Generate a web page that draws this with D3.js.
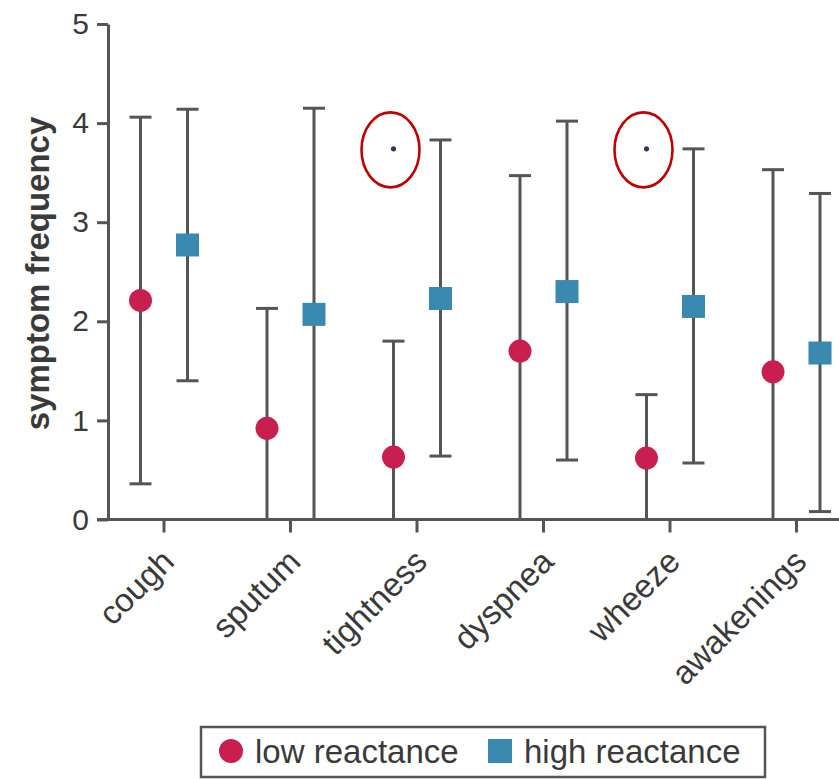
<!DOCTYPE html>
<html>
<head>
<meta charset="utf-8">
<script src="https://cdn.jsdelivr.net/npm/d3@7/dist/d3.min.js"></script>
<style>
  html, body { margin: 0; padding: 0; background: #fff; }
  svg { display: block; font-family: "Liberation Sans", Arial, Helvetica, sans-serif; }
</style>
</head>
<body>
<svg id="chart" width="839" height="779"></svg>
<script>
// Symptom frequency by airway reactance group: mean with range bars
const categories = ["cough", "sputum", "tightness", "dyspnea", "wheeze", "awakenings"];
const seriesNames = ["low reactance", "high reactance"];

const lowMean  = [2.21, 0.92, 0.63, 1.70, 0.62, 1.49];
const lowLower = [0.36, 0.00, 0.00, 0.00, 0.00, 0.00];
const lowUpper = [4.06, 2.13, 1.80, 3.47, 1.26, 3.53];

const highMean  = [2.77, 2.07, 2.23, 2.30, 2.15, 1.68];
const highLower = [1.40, 0.00, 0.64, 0.60, 0.57, 0.08];
const highUpper = [4.14, 4.15, 3.83, 4.02, 3.74, 3.29];

// single outlying observations in the low-reactance group, circled
const outlierCategories = ["tightness", "wheeze"];
const outlierValues = [3.74, 3.74];

const yTicks = [0, 1, 2, 3, 4, 5];
const yTitle = "symptom frequency";

const colors = { low: "#c91f4e", high: "#3a89b0" };
const axisColor = "#555";
const textColor = "#3a3a3a";

const svg = d3.select("#chart");

const y = d3.scaleLinear().domain([0, 5]).range([519.5, 24]);
const x = d3.scaleBand().domain(categories).range([100.75, 859.75]).padding(0);
const offset = 23.5;   // horizontal shift of each group within a category
const cx = c => x(c) + x.bandwidth() / 2;

// ---- y axis
const yAxisX = 108;
const yAxis = d3.axisLeft(y).tickValues(yTicks).tickFormat(d3.format("d"))
  .tickSize(11).tickSizeOuter(0).tickPadding(8);
const gy = svg.append("g").attr("transform", `translate(${yAxisX},0)`).call(yAxis);
gy.select(".domain").attr("stroke", axisColor).attr("stroke-width", 3);
gy.selectAll(".tick line").attr("stroke", axisColor).attr("stroke-width", 3);
gy.selectAll(".tick text").attr("fill", textColor).attr("font-size", 30)
  .attr("font-family", "Liberation Sans, Arial, sans-serif");

// ---- x axis
const xAxis = d3.axisBottom(x).tickSize(13).tickSizeOuter(0).tickPadding(6);
const gx = svg.append("g").attr("transform", `translate(0,${y(0)})`).call(xAxis);
gx.select(".domain").remove();
gx.append("line").attr("x1", yAxisX - 11).attr("x2", 839).attr("y1", 0).attr("y2", 0)
  .attr("stroke", axisColor).attr("stroke-width", 3);
gx.selectAll(".tick line").attr("stroke", axisColor).attr("stroke-width", 3);
gx.selectAll(".tick text")
  .attr("fill", textColor).attr("font-size", 33)
  .attr("font-family", "Liberation Sans, Arial, sans-serif")
  .attr("text-anchor", "end")
  .attr("y", 0).attr("dy", 0)
  .attr("transform", "translate(12,44) rotate(-45)");

// ---- y title
svg.append("text")
  .attr("transform", `translate(49,${(115 + 432) / 2}) rotate(-90)`)
  .attr("text-anchor", "middle")
  .attr("font-size", 33).attr("font-weight", "bold")
  .attr("fill", textColor)
  .text(yTitle);

// ---- range bars and markers
const capHalf = 11;
function drawGroup(mean, lower, upper, shift, key) {
  const data = categories.map((c, i) => ({ c, m: mean[i], lo: lower[i], hi: upper[i] }));
  const g = svg.append("g").attr("class", "group-" + key);
  const bar = g.selectAll("g.bar").data(data).join("g").attr("class", "bar")
    .attr("stroke", axisColor).attr("stroke-width", 3);
  bar.append("line")
    .attr("x1", d => cx(d.c) + shift).attr("x2", d => cx(d.c) + shift)
    .attr("y1", d => y(d.lo)).attr("y2", d => y(d.hi));
  bar.append("line")
    .attr("x1", d => cx(d.c) + shift - capHalf).attr("x2", d => cx(d.c) + shift + capHalf)
    .attr("y1", d => y(d.hi)).attr("y2", d => y(d.hi));
  bar.append("line")
    .attr("x1", d => cx(d.c) + shift - capHalf).attr("x2", d => cx(d.c) + shift + capHalf)
    .attr("y1", d => y(d.lo)).attr("y2", d => y(d.lo));
  return { g, data };
}

const low = drawGroup(lowMean, lowLower, lowUpper, -offset, "low");
const high = drawGroup(highMean, highLower, highUpper, offset, "high");

low.g.selectAll("circle.pt").data(low.data).join("circle").attr("class", "pt")
  .attr("cx", d => cx(d.c) - offset).attr("cy", d => y(d.m)).attr("r", 11.5)
  .attr("fill", colors.low);

const sq = 23;
high.g.selectAll("rect.pt").data(high.data).join("rect").attr("class", "pt")
  .attr("x", d => cx(d.c) + offset - sq / 2).attr("y", d => y(d.m) - sq / 2)
  .attr("width", sq).attr("height", sq)
  .attr("fill", colors.high);

// ---- outliers with annotation rings
const outliers = outlierCategories.map((c, i) => ({ c, v: outlierValues[i] }));
const og = svg.append("g");
og.selectAll("circle.out").data(outliers).join("circle").attr("class", "out")
  .attr("cx", d => cx(d.c) - offset).attr("cy", d => y(d.v)).attr("r", 2.6)
  .attr("fill", "#2d3b5a");
og.selectAll("ellipse").data(outliers).join("ellipse")
  .attr("cx", d => cx(d.c) - offset - 3).attr("cy", d => y(d.v) + 1)
  .attr("rx", 29).attr("ry", 37.5)
  .attr("fill", "none").attr("stroke", "#c00000").attr("stroke-width", 2.6);

// ---- legend
const lg = svg.append("g");
lg.append("rect").attr("x", 201).attr("y", 727).attr("width", 564).attr("height", 50)
  .attr("fill", "#fff").attr("stroke", axisColor).attr("stroke-width", 2.5);
lg.append("circle").attr("cx", 231).attr("cy", 751).attr("r", 12).attr("fill", colors.low);
lg.append("text").attr("x", 255).attr("y", 763).attr("font-size", 33).attr("fill", textColor)
  .text(seriesNames[0]);
lg.append("rect").attr("x", 488).attr("y", 739).attr("width", 24).attr("height", 24)
  .attr("fill", colors.high);
lg.append("text").attr("x", 524).attr("y", 763).attr("font-size", 33).attr("fill", textColor)
  .text(seriesNames[1]);
</script>
</body>
</html>
